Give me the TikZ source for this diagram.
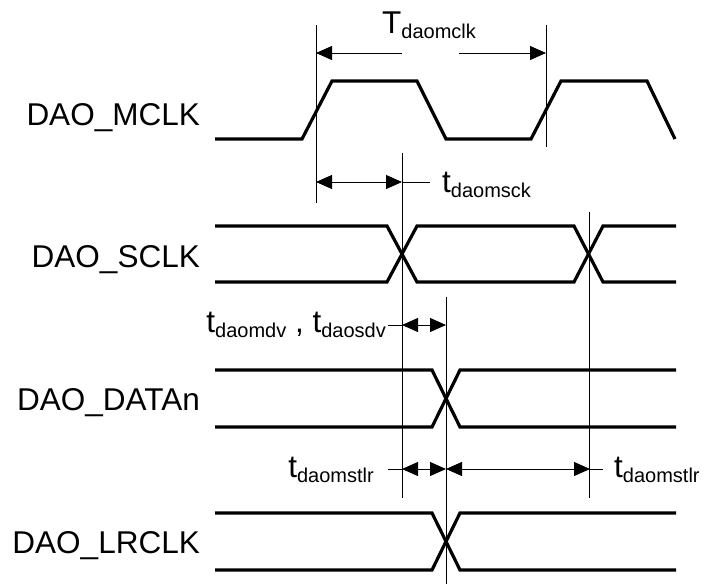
\documentclass[tikz,border=0pt]{standalone}
\usepackage{fontspec}
\setmainfont{Liberation Sans}
\usetikzlibrary{arrows.meta}
\newcommand{\lowsub}[1]{\raisebox{-5pt}{\fontsize{20}{22}\selectfont #1}}
\begin{document}
\begin{tikzpicture}[x=1pt,y=-1pt,
  sig/.style={line width=3.2pt},
  guide/.style={line width=0.9pt},
  dimr/.style={line width=0.9pt,-{Triangle[length=16pt,width=14pt]}},
  diml/.style={line width=0.9pt,{Triangle[length=16pt,width=14pt]}-},
  dimlr/.style={line width=0.9pt,{Triangle[length=16pt,width=14pt]}-{Triangle[length=16pt,width=14pt]}},
  lbl/.style={font=\fontsize{31.5}{36}\selectfont,inner sep=0pt},
]
\useasboundingbox (0,0) rectangle (707,584);

% signal names
\node[lbl,anchor=base east] (nmclk) at (200,125) {DAO\_MCLK};
\node[lbl,anchor=base east] (nsclk) at (200,267) {DAO\_SCLK};
\node[lbl,anchor=base east] (ndata) at (200,410) {DAO\_DATAn};
\node[lbl,anchor=base east] (nlr) at (200,553) {DAO\_LRCLK};

% waveforms
\draw[sig] (215,139)--(302,139)--(332,81)--(417,81)--(446,139)--(531,139)--(561,81)--(647,81)--(675,139);
\draw[sig] (215,226)--(387,226)--(417,282)--(574,282)--(603,226)--(676,226);
\draw[sig] (215,282)--(387,282)--(417,226)--(574,226)--(603,282)--(676,282);
\draw[sig] (215,370)--(432,370)--(460,427)--(676,427);
\draw[sig] (215,427)--(432,427)--(460,370)--(676,370);
\draw[sig] (215,513)--(432,513)--(460,570)--(676,570);
\draw[sig] (215,570)--(432,570)--(460,513)--(676,513);

% guide lines
\coordinate (v1t) at (316,25);  \coordinate (v1b) at (316,203);
\coordinate (v2t) at (546,25);  \coordinate (v2b) at (546,147);
\coordinate (v3t) at (402,153); \coordinate (v3b) at (402,498);
\coordinate (v4t) at (589,212); \coordinate (v4b) at (589,498);
\coordinate (v5t) at (446,297); \coordinate (v5b) at (446,584);
\draw[guide] (v1t)--(v1b);
\draw[guide] (v2t)--(v2b);
\draw[guide] (v3t)--(v3b);
\draw[guide] (v4t)--(v4b);
\draw[guide] (v5t)--(v5b);

% T_daomclk
\coordinate (a1) at (316,53); \coordinate (a2) at (402,53);
\coordinate (a3) at (459,53); \coordinate (a4) at (546,53);
\draw[diml] (a1)--(a2);
\draw[dimr] (a3)--(a4);
\node[lbl,anchor=base west] (tmclk) at (382,33) {T\lowsub{daomclk}};

% t_daomsck
\coordinate (b1) at (316,182); \coordinate (b2) at (402,182); \coordinate (b3) at (430,182);
\draw[dimlr] (b1)--(b2);
\draw[guide] (b2)--(b3);
\node[lbl,anchor=base west] (tsck) at (442,192) {t\lowsub{daomsck}};

% t_daomdv, t_daosdv
\coordinate (c0) at (388,325); \coordinate (c1) at (402,325); \coordinate (c2) at (446,325);
\draw[guide] (c0)--(c1);
\draw[dimlr] (c1)--(c2);
\node[lbl,anchor=base east] (tdv) at (386,332) {t\lowsub{daomdv} , t\lowsub{daosdv}};

% t_daomstlr
\coordinate (d0) at (388,469); \coordinate (d1) at (402,469); \coordinate (d2) at (446,469);
\coordinate (d3) at (590,469); \coordinate (d4) at (603,469);
\draw[guide] (d0)--(d1);
\draw[dimlr] (d1)--(d2);
\draw[dimlr] (d2)--(d3);
\draw[guide] (d3)--(d4);
\node[lbl,anchor=base east] (tstl) at (374,477) {t\lowsub{daomstlr}};
\node[lbl,anchor=base west] (tstr) at (614,477) {t\lowsub{daomstlr}};
\end{tikzpicture}
\end{document}
